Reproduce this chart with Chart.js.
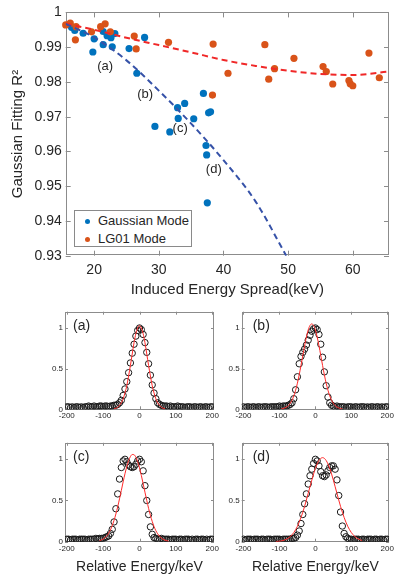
<!DOCTYPE html>
<html><head><meta charset="utf-8">
<script src="https://cdn.jsdelivr.net/npm/chart.js@4/dist/chart.umd.min.js"></script>
<style>
html,body{margin:0;padding:0;background:#fff;}
#wrap{position:relative;width:396px;height:580px;overflow:hidden;font-family:"Liberation Sans",Arial,Helvetica,sans-serif;}
canvas{position:absolute;}
#legend{position:absolute;left:74px;top:210px;width:116px;height:35px;border:1px solid #8a8a8a;background:#fff;color:#262626;font-size:13px;}
#legend .dot{position:absolute;left:10px;width:5px;height:5px;border-radius:50%;}
#legend .lt{position:absolute;left:23px;line-height:14px;white-space:nowrap;}
</style></head>
<body><div id="wrap">
<canvas id="top" width="396" height="300" style="left:0;top:0"></canvas>
<canvas id="pa" width="225" height="135" style="left:0;top:300px"></canvas>
<canvas id="pb" width="176" height="135" style="left:220px;top:300px"></canvas>
<canvas id="pc" width="225" height="150" style="left:0;top:430px"></canvas>
<canvas id="pd" width="176" height="150" style="left:220px;top:430px"></canvas>
<div id="legend">
  <span class="dot" style="top:8px;background:#0072BD"></span><span class="lt" style="top:3px">Gaussian Mode</span>
  <span class="dot" style="top:26px;background:#D95319"></span><span class="lt" style="top:21px">LG01 Mode</span>
</div>
</div>
<script>
const FONT = '"Liberation Sans", Arial, Helvetica, sans-serif';

// ---------- top chart data ----------
const GAUSS_X = [16.5,17.0,18.3,19.8,20.0,21.4,21.4,22.0,22.6,22.8,23.2,25.4,27.8,26.6,29.4,31.7,32.9,33.0,34.0,35.4,36.9,37.7,38.0,37.3,37.4,37.5];
const GAUSS_Y = [0.9957,0.9948,0.9940,0.9886,0.9924,0.9907,0.9945,0.9933,0.9927,0.9901,0.9939,0.9896,0.9928,0.9825,0.9672,0.9656,0.9726,0.9695,0.9738,0.9694,0.9767,0.9711,0.9714,0.9617,0.9590,0.9452];
const LG_X = [15.6,16.3,17.2,17.1,19.6,21.0,21.7,22.5,26.2,26.5,31.5,38.4,38.3,40.7,46.4,47.0,47.9,50.9,55.4,55.9,56.9,59.4,59.6,60.0,62.5,64.1];
const LG_Y = [0.9964,0.9969,0.9959,0.9921,0.9944,0.9959,0.9967,0.9944,0.9932,0.9895,0.9914,0.9909,0.9762,0.9825,0.9907,0.9808,0.9838,0.9868,0.9844,0.9830,0.9794,0.9804,0.9795,0.9789,0.9883,0.9812];
const GAUSS_FIT_X = [15.6,20,25,30,35,40,45,49.7];
const GAUSS_FIT_Y = [0.9967,0.9928,0.9862,0.9775,0.9680,0.9575,0.9455,0.9300];
const LG_FIT_X = [15.6,20,25,30,35,40,45,50,55,60,65.6];
const LG_FIT_Y = [0.9968,0.9950,0.9927,0.9906,0.9885,0.9863,0.9846,0.9832,0.9823,0.9820,0.9830];
const TOP_X_TICKS = [20,30,40,50,60];
const TOP_Y_TICKS = [0.93,0.94,0.95,0.96,0.97,0.98,0.99,1];
const NOTE_TEXT = ['(a)','(b)','(c)','(d)'];
const NOTE_X = [21.7,27.9,33.3,38.5];
const NOTE_Y = [0.9845,0.9764,0.9666,0.9547];

// ---------- bottom panels data ----------
const ENERGY = [-200,-195,-190,-185,-180,-175,-170,-165,-160,-155,-150,-145,-140,-135,-130,-125,-120,-115,-110,-105,-100,-95,-90,-85,-80,-75,-70,-65,-60,-55,-50,-45,-40,-35,-30,-25,-20,-15,-10,-5,0,5,10,15,20,25,30,35,40,45,50,55,60,65,70,75,80,85,90,95,100,105,110,115,120,125,130,135,140,145,150,155,160,165,170,175,180,185,190,195,200];
const PROFILE_A = [0.03,0.03,0.02,0.03,0.02,0.03,0.03,0.02,0.03,0.02,0.03,0.03,0.04,0.03,0.03,0.04,0.03,0.03,0.04,0.04,0.03,0.04,0.04,0.03,0.04,0.04,0.05,0.05,
  0.06,0.08,0.11,0.17,0.25,0.34,0.45,0.57,0.69,0.80,0.90,0.97,1.00,0.98,0.92,0.82,0.70,0.56,0.42,0.30,0.20,0.13,0.08,0.06,0.05,
  0.04,0.04,0.04,0.03,0.04,0.03,0.03,0.03,0.04,0.03,0.03,0.03,0.02,0.03,0.03,0.03,0.02,0.03,0.03,0.02,0.03,0.03,0.02,0.03,0.03,0.02,0.03,0.03];
const PROFILE_B = [0.03,0.02,0.03,0.03,0.02,0.03,0.03,0.02,0.03,0.03,0.02,0.03,0.03,0.03,0.02,0.03,0.03,0.03,0.03,0.03,0.04,0.03,0.04,0.04,0.04,0.05,
  0.06,0.08,0.13,0.24,0.40,0.56,0.65,0.70,0.74,0.79,0.85,0.91,0.96,0.99,1.00,0.98,0.92,0.80,0.64,0.46,0.29,0.15,0.08,0.05,0.04,
  0.03,0.04,0.03,0.03,0.03,0.03,0.02,0.03,0.03,0.03,0.02,0.03,0.03,0.02,0.03,0.03,0.03,0.02,0.03,0.02,0.03,0.03,0.02,0.03,0.03,0.02,0.03,0.02,0.03,0.03];
const PROFILE_C = [0.03,0.03,0.02,0.03,0.03,0.03,0.02,0.03,0.03,0.03,0.03,0.02,0.03,0.03,0.03,0.03,0.04,0.03,0.04,0.04,0.04,0.05,
  0.06,0.07,0.10,0.15,0.24,0.40,0.58,0.76,0.90,0.98,1.00,0.97,0.93,0.91,0.90,0.91,0.94,0.98,1.00,0.97,0.86,0.68,0.50,0.33,0.18,0.09,0.05,0.04,0.03,
  0.03,0.04,0.03,0.03,0.03,0.03,0.02,0.03,0.03,0.03,0.02,0.03,0.03,0.02,0.03,0.03,0.03,0.02,0.03,0.02,0.03,0.03,0.02,0.03,0.03,0.02,0.03,0.02,0.03,0.03];
const PROFILE_D = [0.03,0.02,0.03,0.03,0.03,0.02,0.03,0.03,0.03,0.02,0.03,0.03,0.02,0.03,0.03,0.03,0.02,0.03,0.03,0.03,0.03,0.02,0.03,0.03,0.03,0.03,0.03,0.04,
  0.04,0.05,0.08,0.13,0.22,0.33,0.46,0.58,0.70,0.80,0.88,0.95,1.00,0.98,0.92,0.85,0.80,0.79,0.81,0.86,0.90,0.92,0.92,0.88,0.75,0.56,0.36,0.19,0.10,0.06,0.04,0.03,
  0.03,0.02,0.03,0.03,0.03,0.02,0.03,0.03,0.02,0.03,0.03,0.03,0.02,0.03,0.03,0.02,0.03,0.03,0.02,0.03,0.03];
const FIT_E = [-110,-105,-100,-95,-90,-85,-80,-75,-70,-65,-60,-55,-50,-45,-40,-35,-30,-25,-20,-15,-10,-5,0,5,10,15,20,25,30,35,40,45,50,55,60,65,70,75,80,85,90,95,100,105,110,115,120,125,130];
const FIT_A = [null,null,null,null,null,null,null,null,0.006,0.013,0.025,0.05,0.08,0.13,0.20,0.29,0.41,0.54,0.68,0.82,0.93,1.00,1.03,1.00,0.93,0.82,0.68,0.54,0.41,0.29,0.20,0.13,0.08,0.05,0.025,0.013,0.006,null,null,null,null,null,null,null,null,null,null,null,null];
const FIT_B = [null,null,null,0.005,0.009,0.017,0.028,0.046,0.074,0.112,0.165,0.235,0.321,0.424,0.540,0.662,0.781,0.889,0.975,1.031,1.05,1.031,0.975,0.889,0.781,0.662,0.540,0.424,0.321,0.235,0.165,0.112,0.074,0.046,0.028,0.017,0.009,0.005,null,null,null,null,null,null,null,null,null,null,null];
const FIT_C = [0.013,0.021,0.032,0.048,0.071,0.102,0.143,0.196,0.260,0.336,0.423,0.520,0.622,0.726,0.824,0.912,0.983,1.033,1.058,1.055,1.025,0.971,0.896,0.805,0.705,0.601,0.500,0.405,0.320,0.246,0.184,0.134,0.096,0.066,0.045,0.029,0.019,0.012,0.007,null,null,null,null,null,null,null,null,null,null];
const FIT_D = [0.003,0.004,0.007,0.010,0.015,0.022,0.032,0.045,0.061,0.084,0.111,0.146,0.187,0.237,0.294,0.358,0.429,0.506,0.587,0.667,0.747,0.822,0.888,0.944,0.985,1.011,1.02,1.011,0.985,0.944,0.888,0.822,0.747,0.667,0.587,0.506,0.429,0.358,0.294,0.237,0.187,0.146,0.111,0.084,0.061,0.045,0.032,0.022,0.015];
const PANEL_X_TICKS = [-200,-100,0,100,200];
const PANEL_Y_TICKS = [0,0.5,1];

[PROFILE_A,PROFILE_B,PROFILE_C,PROFILE_D].forEach((a,i)=>{ if(a.length!==ENERGY.length) throw new Error('profile '+i+' length '+a.length); });
[FIT_A,FIT_B,FIT_C,FIT_D].forEach((a,i)=>{ if(a.length!==FIT_E.length) throw new Error('fit '+i+' length '+a.length); });

const AXIS_COLOR = '#8c8c8c';
const TEXT_COLOR = '#262626';

const boxTicks = {
  id:'boxTicks',
  beforeDatasetsDraw(chart, args, opts){
    const {ctx, chartArea:a, scales} = chart;
    const L = opts.len || 4;
    ctx.save();
    ctx.strokeStyle = AXIS_COLOR;
    ctx.lineWidth = 1;
    ctx.beginPath();
    scales.x.ticks.forEach(t=>{
      const p = Math.round(scales.x.getPixelForValue(t.value))+0.5;
      ctx.moveTo(p,a.bottom); ctx.lineTo(p,a.bottom-L);
      ctx.moveTo(p,a.top); ctx.lineTo(p,a.top+L);
    });
    scales.y.ticks.forEach(t=>{
      const p = Math.round(scales.y.getPixelForValue(t.value))+0.5;
      ctx.moveTo(a.left,p); ctx.lineTo(a.left+L,p);
      ctx.moveTo(a.right,p); ctx.lineTo(a.right-L,p);
    });
    ctx.stroke();
    ctx.strokeRect(Math.round(a.left)+0.5, Math.round(a.top)+0.5, Math.round(a.right-a.left)-1, Math.round(a.bottom-a.top)-1);
    ctx.restore();
  }
};

const notes = {
  id:'notes',
  afterDatasetsDraw(chart, args, opts){
    const {ctx, scales, chartArea:a} = chart;
    ctx.save();
    ctx.fillStyle = TEXT_COLOR;
    ctx.font = (opts.size||13)+'px '+FONT;
    ctx.textBaseline = 'middle';
    if (opts.items){
      ctx.textAlign = 'center';
      opts.items.forEach(it=>ctx.fillText(it.t, scales.x.getPixelForValue(it.x), scales.y.getPixelForValue(it.y)));
    }
    if (opts.corner){
      ctx.textAlign = 'left';
      ctx.fillText(opts.corner, a.left+opts.dx, a.top+opts.dy);
    }
    ctx.restore();
  }
};

function pts(xs, ys){ return xs.map((x,i)=>({x:x,y:ys[i]})).filter(p=>p.y!==null); }
function fixTicks(list){ return s=>{ s.ticks = list.map(v=>({value:v})); }; }

// ---------- top chart ----------
new Chart(document.getElementById('top'), {
  type:'scatter',
  data:{datasets:[
    {label:'Gaussian fit', data:pts(GAUSS_FIT_X,GAUSS_FIT_Y), showLine:true, borderColor:'#3652a8', borderWidth:2, borderDash:[6,4], pointRadius:0, cubicInterpolationMode:'monotone', order:0},
    {label:'LG01 fit', data:pts(LG_FIT_X,LG_FIT_Y), showLine:true, borderColor:'#f02828', borderWidth:2, borderDash:[6,4], pointRadius:0, cubicInterpolationMode:'monotone', order:0},
    {label:'LG01 Mode', data:pts(LG_X,LG_Y), backgroundColor:'#D95319', borderWidth:0, pointRadius:3.6, clip:false, order:1},
    {label:'Gaussian Mode', data:pts(GAUSS_X,GAUSS_Y), backgroundColor:'#0072BD', borderWidth:0, pointRadius:3.6, clip:false, order:2}
  ]},
  options:{
    responsive:false, animation:false, devicePixelRatio:1,
    layout:{padding:{top:9.5,right:7,left:0,bottom:0}},
    plugins:{legend:{display:false}, tooltip:{enabled:false},
      boxTicks:{len:5},
      notes:{size:13, items:NOTE_TEXT.map((t,i)=>({t:t,x:NOTE_X[i],y:NOTE_Y[i]}))}},
    scales:{
      x:{type:'linear', min:15.6, max:65.6, afterBuildTicks:fixTicks(TOP_X_TICKS), afterFit:s=>{s.height=44.3;},
        grid:{display:false, drawTicks:false}, border:{display:false},
        ticks:{padding:6, maxRotation:0, autoSkip:false, color:TEXT_COLOR, font:{size:14,family:FONT}},
        title:{display:true, text:'Induced Energy Spread(keV)', color:TEXT_COLOR, font:{size:15,family:FONT}, padding:{top:0,bottom:1}}},
      y:{type:'linear', min:0.93, max:1, afterBuildTicks:fixTicks(TOP_Y_TICKS), afterFit:s=>{s.width=65.7;},
        grid:{display:false, drawTicks:false}, border:{display:false},
        ticks:{padding:4, autoSkip:false, color:TEXT_COLOR, font:{size:14,family:FONT}, callback:v=>String(v)},
        title:{display:true, text:'Gaussian Fitting R²', color:TEXT_COLOR, font:{size:15,family:FONT}, padding:{top:9,bottom:0}}}
    }
  },
  plugins:[boxTicks, notes]
});

// ---------- bottom panels ----------
function panel(id, profile, fit, tag, cfg){
  new Chart(document.getElementById(id), {
    type:'scatter',
    data:{datasets:[
      {label:'fit', data:pts(FIT_E,fit), showLine:true, borderColor:'#ff2a2a', borderWidth:1, pointRadius:0, cubicInterpolationMode:'monotone', order:0},
      {label:'measured', data:pts(ENERGY,profile), pointStyle:'circle', pointRadius:3.2, borderWidth:1, borderColor:'#1a1a1a', backgroundColor:'rgba(0,0,0,0)', order:1}
    ]},
    options:{
      responsive:false, animation:false, devicePixelRatio:1,
      layout:{padding:{top:cfg.padT,right:cfg.padR,left:0,bottom:0}},
      plugins:{legend:{display:false}, tooltip:{enabled:false},
        boxTicks:{len:3},
        notes:{size:14, corner:tag, dx:cfg.dx, dy:14.5}},
      scales:{
        x:{type:'linear', min:-205, max:205, afterBuildTicks:fixTicks(PANEL_X_TICKS), afterFit:s=>{s.height=cfg.xH;},
          grid:{display:false, drawTicks:false}, border:{display:false},
          ticks:{padding:2, maxRotation:0, autoSkip:false, color:TEXT_COLOR, font:{size:8,family:FONT}},
          title:{display:cfg.title, text:'Relative Energy/keV', color:TEXT_COLOR, font:{size:14,family:FONT}, padding:{top:0,bottom:4.9}}},
        y:{type:'linear', min:0, max:1.2, afterBuildTicks:fixTicks(PANEL_Y_TICKS), afterFit:s=>{s.width=cfg.yW;},
          grid:{display:false, drawTicks:false}, border:{display:false},
          ticks:{padding:2, autoSkip:false, color:TEXT_COLOR, font:{size:8,family:FONT}, callback:v=>String(v)}}
      }
    },
    plugins:[boxTicks, notes]
  });
}
panel('pa', PROFILE_A, FIT_A, '(a)', {padT:11.7, padR:11, yW:65, xH:25.7, title:false, dx:8});
panel('pb', PROFILE_B, FIT_B, '(b)', {padT:11.7, padR:5.3, yW:21.7, xH:25.7, title:false, dx:11});
panel('pc', PROFILE_C, FIT_C, '(c)', {padT:12.8, padR:11, yW:65, xH:38.3, title:true, dx:8});
panel('pd', PROFILE_D, FIT_D, '(d)', {padT:12.8, padR:5.3, yW:21.7, xH:38.3, title:true, dx:11});
</script>
</body></html>
